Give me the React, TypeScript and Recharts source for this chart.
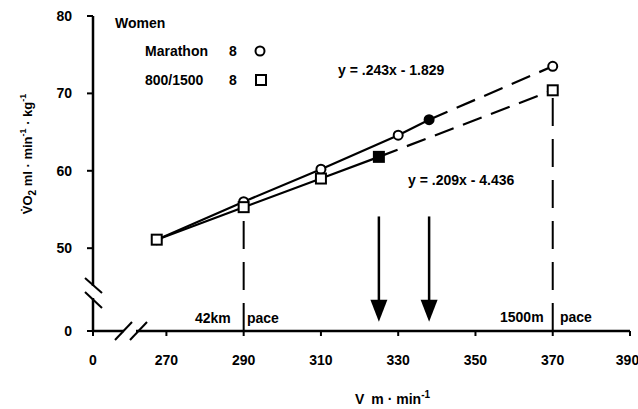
import React from 'react';
import { ComposedChart, Line, Scatter, XAxis, YAxis, ReferenceLine } from 'recharts';

// broken axes: the "0" tick is drawn at these stand-in values
const X_ZERO = 251;
const Y_ZERO = 39.3;

const xTicks = [X_ZERO, 270, 290, 310, 330, 350, 370, 390];
const yTicks = [Y_ZERO, 50, 60, 70, 80];

const marathonV = [267.5, 290, 310, 330, 338, 370];
const marathonVO2 = [51.1, 56.0, 60.2, 64.6, 66.6, 73.5];
const middleV = [267.5, 290, 310, 325, 370];
const middleVO2 = [51.1, 55.3, 59.0, 61.8, 70.4];

const marathonThreshold = 338;
const middleThreshold = 325;
const paceMarks = [290, 370]; // 42km pace, 1500m pace
const arrowFrom = 54.1;
const arrowTo = 40.5;

const toPts = (xs: number[], ys: number[]) => xs.map((x, i) => ({ x, y: ys[i] }));
const marathon = toPts(marathonV, marathonVO2);
const middle = toPts(middleV, middleVO2);

const font = "'Liberation Sans', Arial, sans-serif";

const CircleDot = (p: any) => (
  <circle
    cx={p.cx}
    cy={p.cy}
    r={4.5}
    fill={p.payload.x === marathonThreshold ? '#000' : '#fff'}
    stroke="#000"
    strokeWidth={2}
  />
);

const SquareDot = (p: any) => (
  <rect
    x={p.cx - 5}
    y={p.cy - 5}
    width={10}
    height={10}
    fill={p.payload.x === middleThreshold ? '#000' : '#fff'}
    stroke="#000"
    strokeWidth={2}
  />
);

const Arrow = (p: any) => {
  const { x1, y1, x2, y2 } = p;
  return (
    <g>
      <line x1={x1} y1={y1} x2={x2} y2={y2 - 18} stroke="#000" strokeWidth={2.5} />
      <polygon points={`${x2 - 8.5},${y2 - 22} ${x2 + 8.5},${y2 - 22} ${x2},${y2}`} fill="#000" />
    </g>
  );
};

export default function App() {
  const tickStyle = { fill: '#000', fontSize: 14, fontWeight: 'bold' as const, fontFamily: font };
  const txt = { fontSize: 14, fontWeight: 'bold' as const, fontFamily: font, fill: '#000' };

  return (
    <div style={{ position: 'absolute', left: 0, top: 0, width: 638, height: 409, background: '#fff' }}>
      <ComposedChart width={638} height={409} margin={{ top: 16, right: 8, bottom: 28, left: 0 }}>
        <XAxis
          dataKey="x"
          type="number"
          domain={[X_ZERO, 390]}
          ticks={xTicks}
          tickFormatter={(v: number) => (v === X_ZERO ? '0' : String(v))}
          allowDataOverflow
          height={50}
          tickSize={5}
          tickMargin={19}
          tick={tickStyle}
          axisLine={{ stroke: '#000', strokeWidth: 2.5 }}
          tickLine={{ stroke: '#000', strokeWidth: 2 }}
        />
        <YAxis
          type="number"
          domain={[Y_ZERO, 80]}
          ticks={yTicks}
          tickFormatter={(v: number) => (v === Y_ZERO ? '0' : String(v))}
          allowDataOverflow
          width={93}
          tickSize={6}
          tickMargin={15}
          tick={tickStyle}
          axisLine={{ stroke: '#000', strokeWidth: 2.5 }}
          tickLine={{ stroke: '#000', strokeWidth: 2 }}
        />

        {paceMarks.map((v) => (
          <ReferenceLine
            key={v}
            segment={[
              { x: v, y: Y_ZERO },
              { x: v, y: middleVO2[middleV.indexOf(v)] },
            ]}
            stroke="#000"
            strokeWidth={2}
            strokeDasharray="28 13"
            ifOverflow="visible"
          />
        ))}
        {[middleThreshold, marathonThreshold].map((v) => (
          <ReferenceLine
            key={'a' + v}
            segment={[
              { x: v, y: arrowFrom },
              { x: v, y: arrowTo },
            ]}
            ifOverflow="visible"
            shape={Arrow}
          />
        ))}

        <Line data={marathon.filter((p) => p.x <= marathonThreshold)} dataKey="y" stroke="#000" strokeWidth={2.2} dot={false} isAnimationActive={false} />
        <Line data={marathon.filter((p) => p.x >= marathonThreshold)} dataKey="y" stroke="#000" strokeWidth={2.2} strokeDasharray="20 10" dot={false} isAnimationActive={false} />
        <Line data={middle.filter((p) => p.x <= middleThreshold)} dataKey="y" stroke="#000" strokeWidth={2.2} dot={false} isAnimationActive={false} />
        <Line data={middle.filter((p) => p.x >= middleThreshold)} dataKey="y" stroke="#000" strokeWidth={2.2} strokeDasharray="20 10" dot={false} isAnimationActive={false} />

        <Scatter data={marathon} dataKey="y" shape={CircleDot} isAnimationActive={false} />
        <Scatter data={middle} dataKey="y" shape={SquareDot} isAnimationActive={false} />
      </ComposedChart>

      <svg width={638} height={409} style={{ position: 'absolute', left: 0, top: 0, pointerEvents: 'none' }}>
        {/* axis breaks */}
        <rect x={89} y={286} width={8} height={12} fill="#fff" />
        <rect x={124} y={327} width={12} height={8} fill="#fff" />
        <g stroke="#000" strokeWidth={2}>
          <line x1={85} y1={278} x2={102} y2={293} />
          <line x1={85} y1={292} x2={102} y2={308} />
          <line x1={115} y1={340} x2={132} y2={322} />
          <line x1={130} y1={340} x2={147} y2={322} />
        </g>

        {/* legend */}
        <text x={115} y={28} {...txt}>Women</text>
        <text x={145} y={56} {...txt}>Marathon</text>
        <text x={229} y={56} {...txt}>8</text>
        <circle cx={260} cy={51} r={4.5} fill="#fff" stroke="#000" strokeWidth={2} />
        <text x={145} y={85} {...txt}>800/1500</text>
        <text x={229} y={85} {...txt}>8</text>
        <rect x={256} y={75} width={10} height={10} fill="#fff" stroke="#000" strokeWidth={2} />

        {/* regression equations */}
        <text x={338} y={75} {...txt}>y = .243x - 1.829</text>
        <text x={408} y={185} {...txt}>y = .209x - 4.436</text>

        {/* pace labels */}
        <text x={195} y={323} {...txt}>42km</text>
        <text x={247} y={323} {...txt}>pace</text>
        <text x={500} y={322} {...txt}>1500m</text>
        <text x={560} y={322} {...txt}>pace</text>

        {/* axis titles */}
        <text x={355} y={404} {...txt}>
          V<tspan dx={7}>m · min</tspan>
          <tspan dy={-6} fontSize={10}>-1</tspan>
        </text>
        <text transform="translate(32,154) rotate(-90)" textAnchor="middle" {...txt} fontSize={13}>
          V̇O<tspan dy={4} fontSize={10}>2</tspan>
          <tspan dy={-4}> ml · min</tspan>
          <tspan dy={-6} fontSize={9}>-1</tspan>
          <tspan dy={6}> · kg</tspan>
          <tspan dy={-6} fontSize={9}>-1</tspan>
        </text>
      </svg>
    </div>
  );
}
